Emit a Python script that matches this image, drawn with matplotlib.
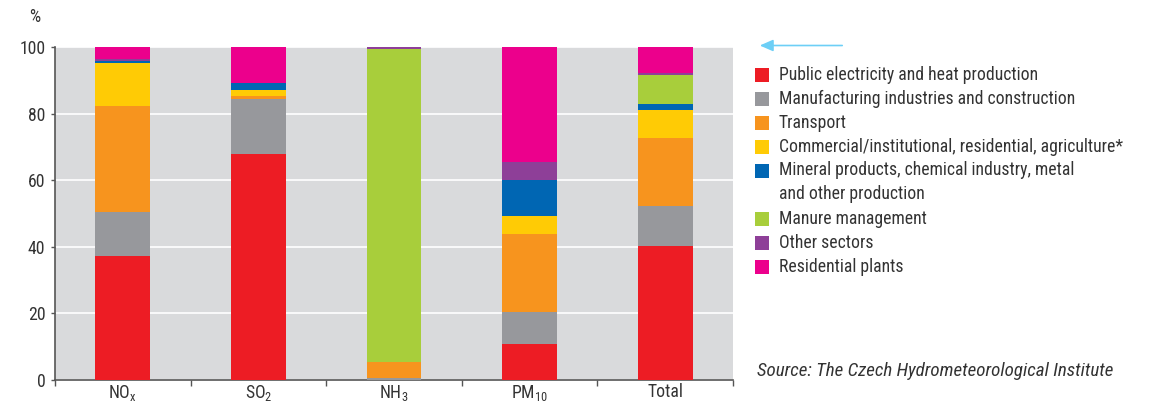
import matplotlib
matplotlib.use("Agg")
import matplotlib.pyplot as plt
from matplotlib import font_manager
from matplotlib.patches import Rectangle, FancyArrowPatch
import numpy as np

# Pick a narrow sans face if one is installed
def find_face(italic=False):
    prefs = ["Liberation Sans Narrow", "Roboto Condensed", "Open Sans Condensed",
             "Noto Sans Condensed", "DejaVu Sans Condensed", "DejaVu Sans"]
    best = None
    for f in font_manager.fontManager.ttflist:
        narrow = (f.stretch not in ("normal", 500) or "ondensed" in f.fname
                  or "arrow" in f.fname or "ondensed" in f.name or "arrow" in f.name)
        if not narrow:
            continue
        if (f.style != "normal") != italic:
            continue
        if f.weight not in (400, "normal", "regular"):
            continue
        rank = next((i for i, p in enumerate(prefs) if f.name.startswith(p.split()[0])), 99)
        if best is None or rank < best[0]:
            best = (rank, f)
    return best[1] if best else None

face = find_face(False)
face_it = find_face(True)
if face is not None:
    font_manager.fontManager.addfont(face.fname)
    base = font_manager.FontProperties(fname=face.fname)
    family = face.name
else:
    base = font_manager.FontProperties(family="Lato")
    family = "Lato"
italic = (font_manager.FontProperties(fname=face_it.fname) if face_it is not None
          else font_manager.FontProperties(family=family, style="italic"))

plt.rcParams["font.family"] = [family, "DejaVu Sans"]
plt.rcParams["mathtext.fontset"] = "custom"
plt.rcParams["mathtext.rm"] = family

categories = ["NO$_\\mathrm{x}$", "SO$_2$", "NH$_3$", "PM$_{10}$", "Total"]

sectors = [
    "Public electricity and heat production",
    "Manufacturing industries and construction",
    "Transport",
    "Commercial/institutional, residential, agriculture*",
    "Mineral products, chemical industry, metal\nand other production",
    "Manure management",
    "Other sectors",
    "Residential plants",
]
source_note = "Source: The Czech Hydrometeorological Institute"

public_electricity = [37.2, 67.8, 0.0, 10.9, 40.2]
manufacturing = [13.3, 16.5, 0.6, 9.5, 12.0]
transport = [31.7, 0.9, 4.9, 23.4, 20.5]
commercial = [12.9, 1.8, 0.0, 5.4, 8.3]
mineral_products = [0.6, 2.1, 0.0, 10.8, 1.8]
manure = [0.0, 0.0, 93.8, 0.0, 8.7]
other_sectors = [0.6, 0.0, 0.6, 5.4, 0.6]
residential_plants = [3.7, 10.9, 0.1, 34.8, 7.9]

series = [public_electricity, manufacturing, transport, commercial,
          mineral_products, manure, other_sectors, residential_plants]

colors = ["#ED1C24", "#97989C", "#F7941E", "#FFCB05",
          "#0066B3", "#A8CE3B", "#8E3F98", "#EC008C"]

W, H = 1150, 405
fig = plt.figure(figsize=(W / 100, H / 100), dpi=100)
ax = fig.add_axes([55 / W, 1 - 380 / H, (733 - 55) / W, (380 - 47) / H])
ax.set_facecolor("#D9DADC")

x = np.arange(len(categories))
bottom = np.zeros(len(categories))
for vals, col in zip(series, colors):
    v = np.array(vals)
    ax.bar(x, v, bottom=bottom, width=0.405, color=col, linewidth=0, zorder=3)
    bottom += v

ax.set_xlim(-0.5, len(categories) - 0.5)
ax.set_ylim(0, 100)
ax.set_yticks([0, 20, 40, 60, 80, 100])
ax.yaxis.grid(True, color="white", linewidth=1.2, zorder=1)
ax.set_axisbelow(True)

# Size the fonts so the longest legend entry and the source note keep their widths
renderer = fig.canvas.get_renderer()
def text_width(s, props):
    t = fig.text(0, 0, s, fontproperties=props, fontsize=12)
    w = t.get_window_extent(renderer).width
    t.remove()
    return w
fs = min(14.5, 12 * 343 / text_width(sectors[3], base))
fs_src = min(14.5, 12 * 354 / text_width(source_note, italic))

# category labels between boundary ticks
ax.set_xticks(np.arange(-0.5, len(categories)))
ax.set_xticklabels([])
ax.set_xticks(x, minor=True)
ax.set_xticklabels(categories, minor=True, fontsize=fs, color="#333333")
ax.tick_params(axis="x", which="minor", length=0, pad=2)
ax.tick_params(axis="x", which="major", length=4, width=1, color="#555555", direction="out")
ax.tick_params(axis="y", length=3, width=1, color="#555555", labelsize=fs,
               labelcolor="#333333", pad=4)

for s in ["top", "right"]:
    ax.spines[s].set_visible(False)
for s in ["left", "bottom"]:
    ax.spines[s].set_color("#555555")
    ax.spines[s].set_linewidth(1.2)

fig.text(35 / W, 1 - 17 / H, "%", fontproperties=base, fontsize=fs, color="#333333",
         ha="center", va="center")

# arrow above the legend
fig.add_artist(FancyArrowPatch(
    (845 / W, 1 - 45.5 / H), (757 / W, 1 - 45.5 / H),
    transform=fig.transFigure, arrowstyle="-|>,head_length=8,head_width=3.5",
    color="#6DCFF6", linewidth=1.2, mutation_scale=1))

# legend drawn as squares and text
line_y = [75, 99, 123, 147, 171, 219, 243, 267]
for label, col, yy in zip(sectors, colors, line_y):
    fig.add_artist(Rectangle((755 / W, 1 - (yy + 7) / H), 14 / W, 14 / H,
                             transform=fig.transFigure, color=col, linewidth=0))
    if "\n" in label:
        fig.text(779 / W, 1 - (yy - 10) / H, label, fontproperties=base, fontsize=fs,
                 color="#333333", ha="left", va="top", linespacing=1.45)
    else:
        fig.text(779 / W, 1 - yy / H, label, fontproperties=base, fontsize=fs,
                 color="#333333", ha="left", va="center")

fig.text(757 / W, 1 - 371 / H, source_note,
         fontproperties=italic, fontsize=fs_src, color="#333333", ha="left", va="center")

fig.savefig("out.png", dpi=100)
